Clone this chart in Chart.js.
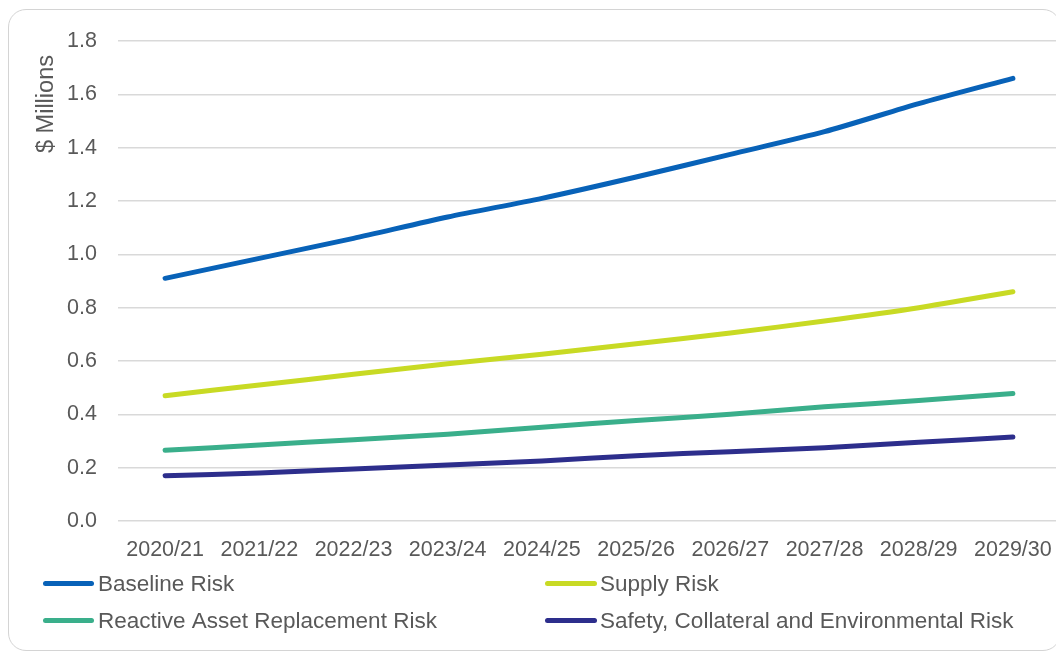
<!DOCTYPE html>
<html><head><meta charset="utf-8">
<script src="https://cdn.jsdelivr.net/npm/chart.js@4/dist/chart.umd.min.js"></script>
<style>
html,body{margin:0;padding:0;background:#fff;overflow:hidden;width:1056px;height:652px;}
#card{position:absolute;left:8px;top:9px;width:1053px;height:642px;border:1.5px solid #d4d4d4;border-radius:18px;box-sizing:border-box;}
#c{position:absolute;left:0;top:0;}
</style></head><body>
<div id="card"></div>
<canvas id="c" width="1060" height="652"></canvas>
<script>
const categories = ['2020/21','2021/22','2022/23','2023/24','2024/25','2025/26','2026/27','2027/28','2028/29','2029/30'];
const seriesNames = ['Baseline Risk','Supply Risk','Reactive Asset Replacement Risk','Safety, Collateral and Environmental Risk'];
const baselineRisk = [0.91, 0.985, 1.06, 1.14, 1.21, 1.29, 1.375, 1.46, 1.565, 1.66];
const supplyRisk = [0.47, 0.51, 0.55, 0.59, 0.625, 0.665, 0.705, 0.75, 0.80, 0.86];
const reactiveRisk = [0.265, 0.285, 0.305, 0.325, 0.352, 0.377, 0.40, 0.428, 0.452, 0.478];
const safetyRisk = [0.17, 0.18, 0.195, 0.21, 0.225, 0.245, 0.26, 0.275, 0.295, 0.315];
const yTicks = [0, 0.2, 0.4, 0.6, 0.8, 1.0, 1.2, 1.4, 1.6, 1.8];
const yTitle = '$ Millions';

const colors = ['#0862B8', '#C8DA24', '#3AAF8B', '#2D2E8C'];
const FONT = '"Liberation Sans", Arial, sans-serif';
const TEXT = '#595959';
const FS = 21.5;
const LFS = 22.5;
const TFS = 23.5;

const allSeries = [baselineRisk, supplyRisk, reactiveRisk, safetyRisk];

const legendPlugin = {
  id: 'gridLegend',
  afterDraw(chart) {
    const ctx = chart.ctx;
    const cols = [{lx: 43, lw: 51, tx: 98}, {lx: 545, lw: 52, tx: 600}];
    const rows = [583.5, 620.5];
    const order = [[0,0],[1,0],[0,1],[1,1]];
    ctx.save();
    ctx.font = LFS + 'px ' + FONT;
    ctx.textBaseline = 'middle';
    ctx.textAlign = 'left';
    chart.data.datasets.forEach((ds, i) => {
      const c = cols[order[i][0]], y = rows[order[i][1]];
      ctx.strokeStyle = ds.borderColor;
      ctx.lineWidth = 5;
      ctx.lineCap = 'round';
      ctx.beginPath();
      ctx.moveTo(c.lx + 2.5, y);
      ctx.lineTo(c.lx + c.lw - 2.5, y);
      ctx.stroke();
      ctx.fillStyle = TEXT;
      ctx.fillText(ds.label, c.tx, y + 1);
    });
    ctx.font = TFS + 'px ' + FONT;
    ctx.translate(46.5, 153);
    ctx.rotate(-Math.PI / 2);
    ctx.textAlign = 'left';
    ctx.textBaseline = 'middle';
    ctx.fillText(yTitle, 0, 0);
    ctx.restore();
  }
};

new Chart(document.getElementById('c'), {
  type: 'line',
  data: {
    labels: categories,
    datasets: allSeries.map((d, i) => ({
      label: seriesNames[i],
      data: d,
      borderColor: colors[i],
      backgroundColor: colors[i],
      borderWidth: 5,
      borderCapStyle: 'round',
      borderJoinStyle: 'round',
      pointRadius: 0,
      tension: 0.25,
      fill: false
    }))
  },
  options: {
    responsive: false,
    animation: false,
    devicePixelRatio: 1,
    layout: { padding: { left: 33, top: 41, right: 0, bottom: 85 } },
    plugins: { legend: { display: false }, tooltip: { enabled: false } },
    scales: {
      x: {
        offset: true,
        grid: { display: false, drawTicks: false },
        border: { display: false },
        ticks: { color: TEXT, font: { family: FONT, size: FS }, padding: 16, maxRotation: 0, autoSkip: false },
        afterFit(s) { s.height = 46; s.paddingLeft = 0; s.paddingRight = 0; }
      },
      y: {
        min: 0, max: 1.8,
        afterBuildTicks(s) { s.ticks = yTicks.map(v => ({ value: v })); },
        grid: { color: '#d9d9d9', lineWidth: 1.5, drawTicks: false },
        border: { display: false },
        ticks: { color: TEXT, font: { family: FONT, size: FS }, padding: 21, callback: v => Number(v).toFixed(1) },
        title: { display: false },
        afterFit(s) { s.width = 85; }
      }
    }
  },
  plugins: [legendPlugin]
});
</script>
</body></html>
